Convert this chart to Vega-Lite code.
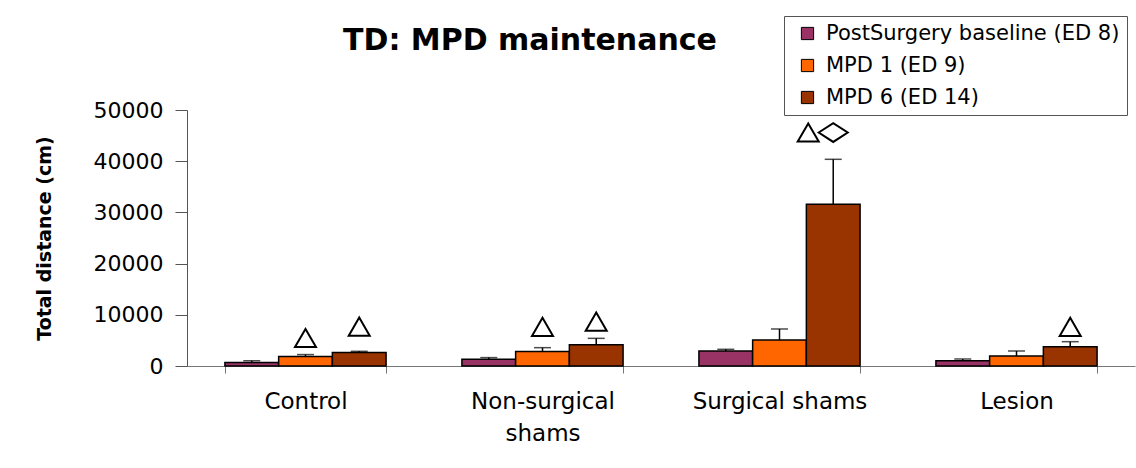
{
  "$schema": "https://vega.github.io/schema/vega-lite/v6.json",
  "autosize": "none",
  "width": 948,
  "height": 256,
  "padding": {"left": 187, "top": 110, "right": 1, "bottom": 102},
  "background": "white",
  "title": {
    "text": "TD: MPD maintenance",
    "anchor": "start",
    "dx": 308,
    "offset": -40,
    "font": "DejaVu Sans",
    "fontWeight": "bold",
    "fontSize": 30,
    "color": "black"
  },
  "datasets": {
    "bars": [
      {"group": "Control", "period": "PostSurgery baseline (ED 8)", "mean": 700, "err": 330},
      {"group": "Control", "period": "MPD 1 (ED 9)", "mean": 1840, "err": 390},
      {"group": "Control", "period": "MPD 6 (ED 14)", "mean": 2620, "err": 250},
      {"group": "Non-surgical shams", "period": "PostSurgery baseline (ED 8)", "mean": 1300, "err": 340},
      {"group": "Non-surgical shams", "period": "MPD 1 (ED 9)", "mean": 2820, "err": 760},
      {"group": "Non-surgical shams", "period": "MPD 6 (ED 14)", "mean": 4160, "err": 1240},
      {"group": "Surgical shams", "period": "PostSurgery baseline (ED 8)", "mean": 2930, "err": 330},
      {"group": "Surgical shams", "period": "MPD 1 (ED 9)", "mean": 5080, "err": 2150},
      {"group": "Surgical shams", "period": "MPD 6 (ED 14)", "mean": 31580, "err": 8790},
      {"group": "Lesion", "period": "PostSurgery baseline (ED 8)", "mean": 1035, "err": 335},
      {"group": "Lesion", "period": "MPD 1 (ED 9)", "mean": 1950, "err": 980},
      {"group": "Lesion", "period": "MPD 6 (ED 14)", "mean": 3770, "err": 980}
    ],
    "marks": [
      {"group": "Control", "period": "MPD 1 (ED 9)", "symbol": "triangle", "y": 5470},
      {"group": "Control", "period": "MPD 6 (ED 14)", "symbol": "triangle", "y": 7700},
      {"group": "Non-surgical shams", "period": "MPD 1 (ED 9)", "symbol": "triangle", "y": 7650},
      {"group": "Non-surgical shams", "period": "MPD 6 (ED 14)", "symbol": "triangle", "y": 8650},
      {"group": "Surgical shams", "period": "MPD 6 (ED 14)", "symbol": "triangle-beside", "y": 45600},
      {"group": "Surgical shams", "period": "MPD 6 (ED 14)", "symbol": "diamond", "y": 45600},
      {"group": "Lesion", "period": "MPD 6 (ED 14)", "symbol": "triangle", "y": 7650}
    ]
  },
  "encoding": {
    "x": {
      "field": "group",
      "type": "nominal",
      "sort": ["Control", "Non-surgical shams", "Surgical shams", "Lesion"],
      "scale": {"paddingInner": 0.32, "paddingOuter": 0.16},
      "axis": {
        "title": null,
        "labelAngle": 0,
        "tickBand": "extent",
        "tickSize": 7,
        "tickColor": "#777",
        "domainColor": "#777",
        "labelFont": "DejaVu Sans",
        "labelFontSize": 23,
        "labelColor": "black",
        "labelPadding": 17,
        "labelLineHeight": 32,
        "labelBaseline": "top",
        "labelExpr": "datum.label === 'Non-surgical shams' ? ['Non-surgical', 'shams'] : datum.label"
      }
    },
    "xOffset": {
      "field": "period",
      "type": "nominal",
      "sort": ["PostSurgery baseline (ED 8)", "MPD 1 (ED 9)", "MPD 6 (ED 14)"],
      "scale": {"paddingInner": 0, "paddingOuter": 0}
    }
  },
  "layer": [
    {
      "data": {"name": "bars"},
      "mark": {"type": "bar", "stroke": "black", "strokeWidth": 1.5},
      "encoding": {
        "y": {
          "field": "mean",
          "type": "quantitative",
          "scale": {"domain": [0, 50000], "nice": false},
          "axis": {
            "title": "Total distance (cm)",
            "titleFont": "DejaVu Sans",
            "titleFontWeight": "bold",
            "titleFontSize": 19,
            "titleColor": "black",
            "titlePadding": 39,
            "values": [0, 10000, 20000, 30000, 40000, 50000],
            "format": "d",
            "grid": false,
            "tickSize": 12,
            "tickColor": "#555",
            "domainColor": "#555",
            "labelFont": "DejaVu Sans",
            "labelFontSize": 22,
            "labelColor": "black",
            "labelPadding": 12
          }
        },
        "color": {
          "field": "period",
          "type": "nominal",
          "sort": ["PostSurgery baseline (ED 8)", "MPD 1 (ED 9)", "MPD 6 (ED 14)"],
          "scale": {
            "domain": ["PostSurgery baseline (ED 8)", "MPD 1 (ED 9)", "MPD 6 (ED 14)"],
            "range": ["#993366", "#FF6600", "#993300"]
          },
          "legend": {
            "title": null,
            "orient": "none",
            "legendX": 597,
            "legendY": -94,
            "padding": 7,
            "strokeColor": "#555",
            "fillColor": "white",
            "symbolType": "square",
            "symbolSize": 150,
            "symbolStrokeColor": "black",
            "symbolStrokeWidth": 1,
            "symbolOffset": 6,
            "labelFont": "DejaVu Sans",
            "labelFontSize": 21,
            "labelColor": "black",
            "labelOffset": 8,
            "labelLimit": 400,
            "rowPadding": 10
          }
        }
      }
    },
    {
      "data": {"name": "bars"},
      "transform": [{"calculate": "datum.mean + datum.err", "as": "upper"}],
      "mark": {"type": "rule", "color": "black", "strokeWidth": 1.5},
      "encoding": {
        "y": {"field": "mean", "type": "quantitative"},
        "y2": {"field": "upper"}
      }
    },
    {
      "data": {"name": "bars"},
      "transform": [{"calculate": "datum.mean + datum.err", "as": "upper"}],
      "mark": {"type": "tick", "color": "black", "thickness": 1.5, "size": 17, "orient": "horizontal"},
      "encoding": {
        "y": {"field": "upper", "type": "quantitative"}
      }
    },
    {
      "data": {"name": "marks"},
      "transform": [{"filter": "datum.symbol === 'triangle'"}],
      "mark": {"type": "point", "shape": "M0,-0.866L-1,0.866L1,0.866Z", "size": 441, "filled": true, "fill": "white", "stroke": "black", "strokeWidth": 2, "opacity": 1},
      "encoding": {"y": {"field": "y", "type": "quantitative"}}
    },
    {
      "data": {"name": "marks"},
      "transform": [{"filter": "datum.symbol === 'triangle-beside'"}],
      "mark": {"type": "point", "shape": "M-2.38,-0.866L-3.38,0.866L-1.38,0.866Z", "size": 441, "filled": true, "fill": "white", "stroke": "black", "strokeWidth": 2, "opacity": 1},
      "encoding": {"y": {"field": "y", "type": "quantitative"}}
    },
    {
      "data": {"name": "marks"},
      "transform": [{"filter": "datum.symbol === 'diamond'"}],
      "mark": {"type": "point", "shape": "M-1,0L0,-0.65L1,0L0,0.65Z", "size": 841, "filled": true, "fill": "white", "stroke": "black", "strokeWidth": 2, "opacity": 1},
      "encoding": {"y": {"field": "y", "type": "quantitative"}}
    }
  ],
  "config": {
    "view": {"stroke": null}
  }
}
